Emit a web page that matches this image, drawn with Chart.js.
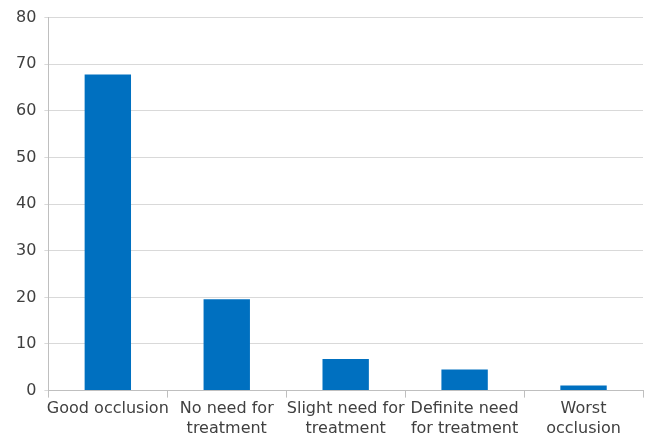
<!DOCTYPE html>
<html>
<head>
<meta charset="utf-8">
<script src="https://cdn.jsdelivr.net/npm/chart.js@4"></script>
<style>
  html, body { margin: 0; padding: 0; background: #fff; }
  #wrap { width: 649px; height: 440px; }
</style>
</head>
<body>
<div id="wrap"><canvas id="occlusion-chart" width="649" height="440"></canvas></div>
<script>
// categories along the x axis (wrapped as in the original)
const categories = [
  'Good occlusion',
  ['No need for', 'treatment'],
  ['Slight need for', 'treatment'],
  ['Definite need', 'for treatment'],
  ['Worst', 'occlusion'],
];
// percentages
const values = [67.8, 19.6, 6.8, 4.5, 1.1];
const yTicks = [0, 10, 20, 30, 40, 50, 60, 70, 80];

const ctx = document.getElementById('occlusion-chart').getContext('2d');
new Chart(ctx, {
  type: 'bar',
  data: {
    labels: categories,
    datasets: [
      {
        data: values,
        backgroundColor: '#0070C0',
        borderWidth: 0,
        categoryPercentage: 1,
        barPercentage: 0.39,
      },
    ],
  },
  options: {
    responsive: false,
    animation: false,
    layout: { padding: { top: 3, right: 6, left: 8, bottom: 0 } },
    plugins: { legend: { display: false }, tooltip: { enabled: false } },
    scales: {
      x: {
        offset: true,
        grid: {
          offset: true,
          drawOnChartArea: false,
          drawTicks: true,
          tickLength: 7,
          color: '#bfbfbf',
        },
        border: { color: '#bfbfbf' },
        ticks: {
          color: '#404040',
          font: { family: 'DejaVu Sans', size: 16 },
          maxRotation: 0,
          autoSkip: false,
          padding: 2,
        },
      },
      y: {
        min: 0,
        max: 80,
        afterBuildTicks: (axis) => {
          axis.ticks = yTicks.map((v) => ({ value: v }));
        },
        grid: { color: '#d9d9d9', tickLength: 4 },
        border: { color: '#bfbfbf' },
        ticks: {
          color: '#404040',
          font: { family: 'DejaVu Sans', size: 16 },
          padding: 8,
        },
      },
    },
  },
});
</script>
</body>
</html>
